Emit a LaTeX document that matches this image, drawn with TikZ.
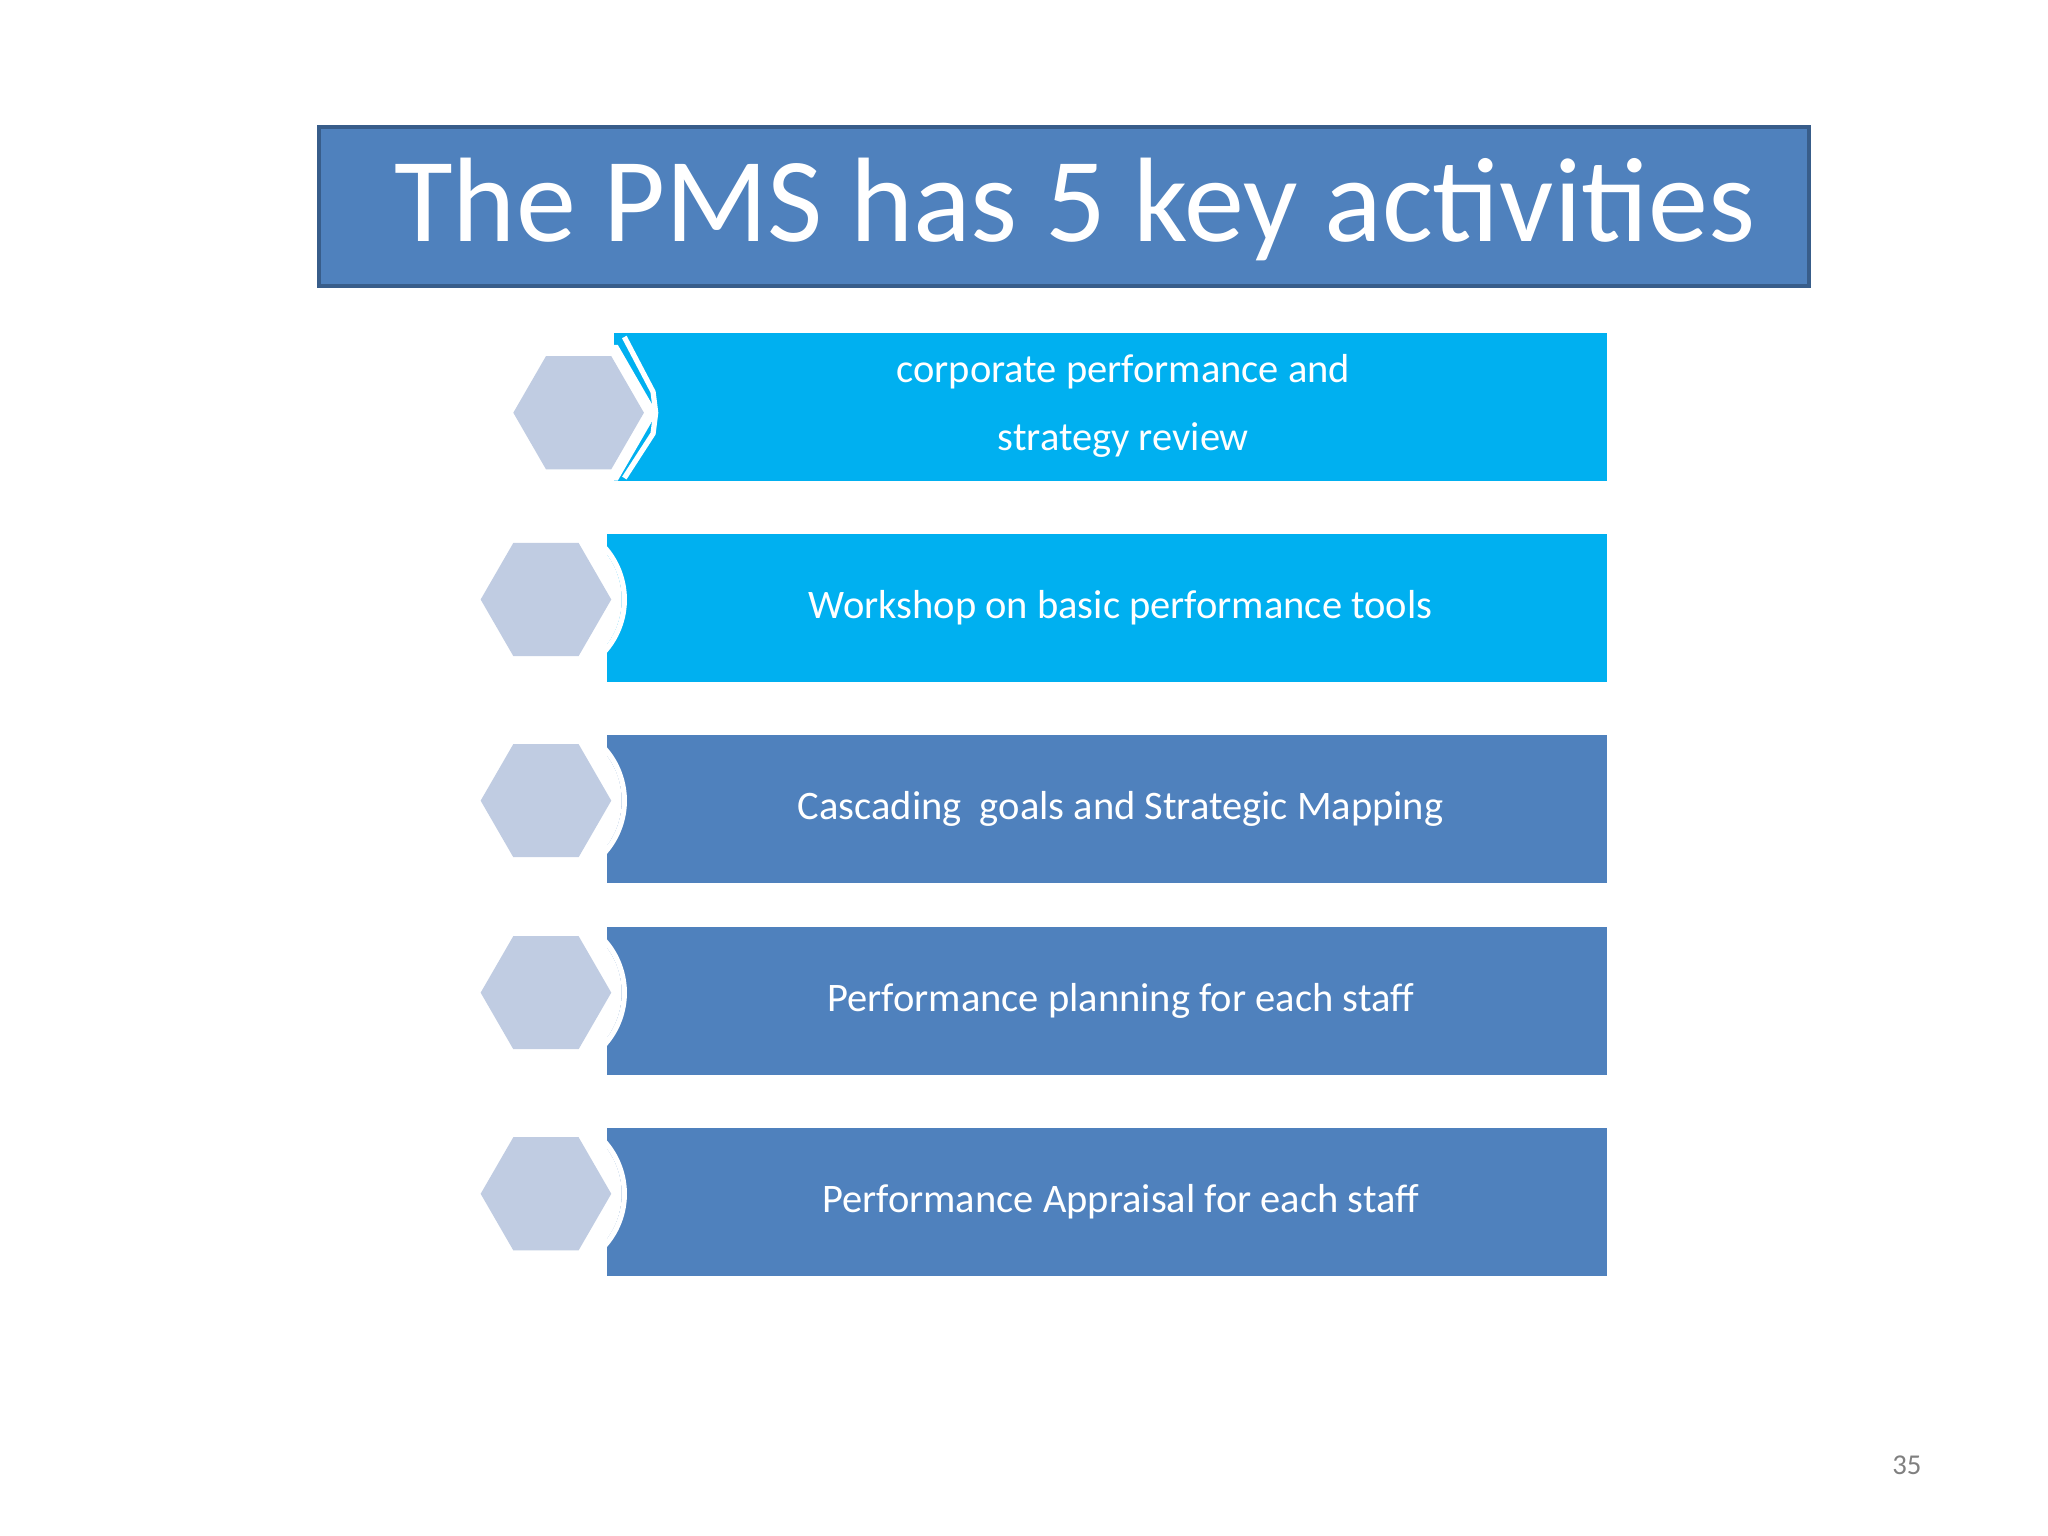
\documentclass[tikz,border=0pt]{standalone}
\usepackage{fontspec}
\setmainfont{Carlito}
\definecolor{tb}{HTML}{4F81BD}
\definecolor{tbd}{HTML}{385D8A}
\definecolor{cy}{HTML}{00B0F0}
\definecolor{hx}{HTML}{C0CCE2}
\begin{document}
\begin{tikzpicture}[x=0.5pt,y=-0.5pt,
  lbl/.style={text=white,font=\fontsize{15.5}{26}\selectfont,align=center},
  hexa/.style={fill=hx,draw=white,line width=1.5pt}]
\useasboundingbox (0,0) rectangle (1568,1176);
\fill[white] (0,0) rectangle (1568,1176);
\draw[fill=tb,draw=tbd,line width=1.5pt] (244,97) rectangle (1385,219);
\node[text=white,font=\fontsize{46}{50}\selectfont] (title) at (823,160) {The PMS has 5 key activities};
% row 1
\fill[cy] (470,255) rectangle (1230,368);
\fill[white] (443,316) ++(0:60) -- ++(120:60) -- ++(180:60) -- ++(240:60) -- ++(300:60) -- ++(0:60) -- cycle;
\draw[white,line width=2pt] (478,258) -- (500,300) -- (502,316) -- (500,332) -- (478,366);
\fill[hexa,draw=none] (493,316) -- ++(120:50) -- ++(180:50) -- ++(240:50) -- ++(300:50) -- ++(0:50) -- cycle;
\node[lbl] (t1) at (860,311) {corporate performance and\\strategy review};
% rows 2-5
\foreach \y/\c/\t/\n in {
 409/cy/{Workshop on basic performance tools}/t2,
 563/tb/{Cascading\ \ goals and Strategic Mapping}/t3,
 710/tb/{Performance planning for each staff}/t4,
 864/tb/{Performance Appraisal for each staff}/t5}{
  \fill[\c] (465,\y) rectangle (1230,\y+113);
  \fill[white] (418,\y+50) circle (58);
  \draw[white,line width=2pt] (418,\y+50) ++(-60:60) arc (-60:60:60);
  \fill[white] (418,\y+50) ++(-58:57) arc (-58:58:57) -- cycle;
  \fill[hx] (468,\y+50) -- ++(120:50) -- ++(180:50) -- ++(240:50) -- ++(300:50) -- ++(0:50) -- cycle;
  \node[lbl] (\n) at (858,\y+56) {\t};
}
\node[text=gray,font=\fontsize{11}{13}\selectfont] (pg) at (1460,1122) {35};
\end{tikzpicture}
\end{document}
